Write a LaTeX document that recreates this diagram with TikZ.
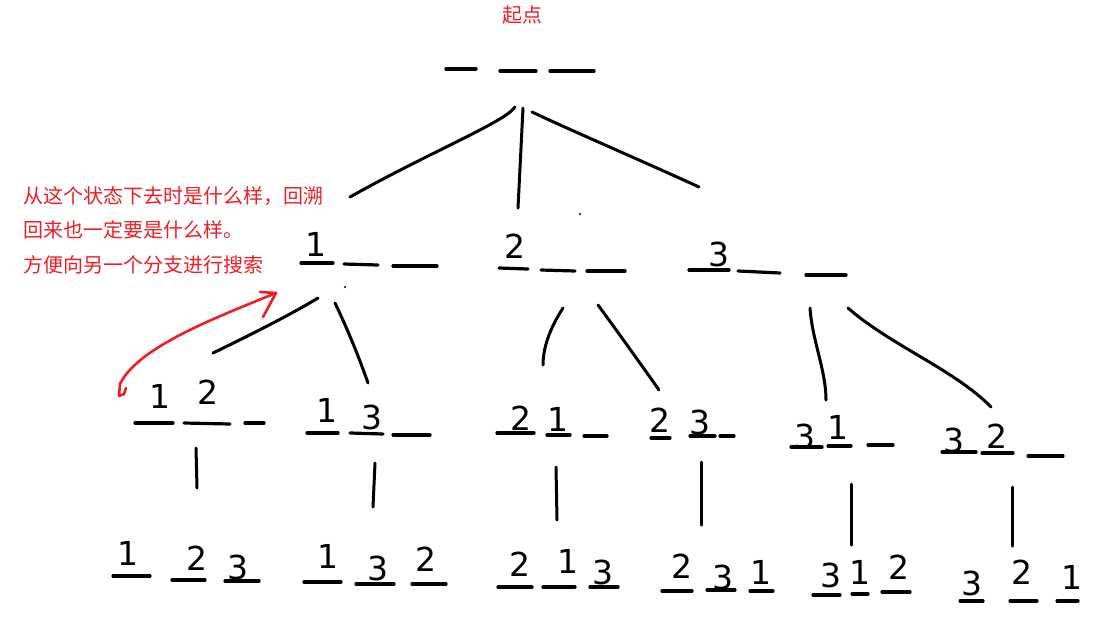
\documentclass[tikz,border=0pt]{standalone}
\usepackage{fontspec}
\newfontfamily\cjk{Noto Sans CJK SC}
\newfontfamily\digf{DejaVu Sans}
\definecolor{notered}{RGB}{240,30,36}
\tikzset{
  dig/.style={font=\digf\fontsize{33}{33}\selectfont, inner sep=0pt, anchor=base},
  ul/.style={line width=3.2pt, line cap=round},
  edge/.style={line width=3pt, line cap=round, line join=round},
  note/.style={text=notered, font=\cjk\fontsize{20}{20}\selectfont, inner sep=0pt, anchor=west},
  redline/.style={draw=notered, line width=2.6pt, line cap=round, line join=round},
  speck/.style={fill=black, circle, inner sep=0pt, minimum size=2.4pt}
}
\begin{document}
\begin{tikzpicture}[x=1pt,y=-1pt]
\useasboundingbox (0,0) rectangle (1105,627);

% ---- labels ----
\node[note, anchor=center] (start) at (522,15) {起点};
\node[note] (note1) at (23,196) {从这个状态下去时是什么样，回溯};
\node[note] (note2) at (23,230) {回来也一定要是什么样。};
\node[note] (note3) at (23,265) {方便向另一个分支进行搜索};

% ---- root ----
\draw[ul] (446,69) -- (476,69);
\draw[ul] (500,71) -- (536,71);
\draw[ul] (550,71) -- (594,71);
\coordinate (rA) at (515,107);
\coordinate (rB) at (523,108);
\coordinate (rC) at (532,112);

% ---- level 1 ----
\node[dig] (a1) at (316,256) {1};
\draw[ul] (301,263) -- (333,263);
\draw[ul] (344,264) -- (378,265);
\draw[ul] (393,266) -- (437,266);

\node[dig] (b1) at (515,258) {2};
\draw[ul] (499,268) -- (528,269);
\draw[ul] (541,270) -- (575,271);
\draw[ul] (587,271) -- (625,271);

\node[dig] (c1) at (719,266) {3};
\draw[ul] (689,270) -- (729,270);
\draw[ul] (738,271) -- (780,273);
\draw[ul] (806,275) -- (846,275);

\coordinate (aT) at (350,197);
\coordinate (bT) at (518,208);
\coordinate (cT) at (699,187);
\draw[edge] (rA) .. controls (505,122) and (430,152) .. (aT);
\draw[edge] (rB) -- (bT);
\draw[edge] (rC) .. controls (570,130) and (640,160) .. (cT);

\node[speck] (sp1) at (580,214) {};
\node[speck] (sp2) at (345,287) {};

% ---- level 2 ----
\node[dig] (d1) at (160,408) {1};
\node[dig] (d2) at (208,404) {2};
\draw[ul] (135,423) -- (173,423);
\draw[ul] (184,423) -- (230,424);
\draw[ul] (245,423) -- (264,423);

\node[dig] (e1) at (327,422) {1};
\node[dig] (e2) at (372,429) {3};
\draw[ul] (307,433) -- (338,433);
\draw[ul] (350,433) -- (383,434);
\draw[ul] (393,435) -- (430,435);

\node[dig] (f1) at (521,430) {2};
\node[dig] (f2) at (558,431) {1};
\draw[ul] (497,433) -- (534,433);
\draw[ul] (547,435) -- (570,435);
\draw[ul] (584,436) -- (607,436);

\node[dig] (g1) at (660,432) {2};
\node[dig] (g2) at (700,434) {3};
\draw[ul] (651,438) -- (670,438);
\draw[ul] (690,436) -- (715,436);
\draw[ul] (720,436) -- (734,436);

\node[dig] (h1) at (805,448) {3};
\node[dig] (h2) at (838,439) {1};
\draw[ul] (791,447) -- (822,447);
\draw[ul] (828,446) -- (851,446);
\draw[ul] (868,445) -- (893,445);

\node[dig] (i1) at (954,452) {3};
\node[dig] (i2) at (997,448) {2};
\draw[ul] (942,452) -- (976,452);
\draw[ul] (982,453) -- (1013,453);
\draw[ul] (1028,456) -- (1063,456);

% level 1 -> level 2 edges
\coordinate (a1L) at (318,298);  \coordinate (dT) at (213,353);
\coordinate (a1R) at (335,303);  \coordinate (eT) at (368,383);
\coordinate (b1L) at (563,308);  \coordinate (fT) at (543,365);
\coordinate (b1R) at (598,305);  \coordinate (gT) at (659,390);
\coordinate (c1L) at (810,308);  \coordinate (hT) at (826,400);
\coordinate (c1R) at (848,308);  \coordinate (iT) at (991,407);
\draw[edge] (a1L) .. controls (290,315) and (250,335) .. (dT);
\draw[edge] (a1R) .. controls (348,330) and (360,360) .. (eT);
\draw[edge] (b1L) .. controls (552,325) and (543,345) .. (fT);
\draw[edge] (b1R) .. controls (620,335) and (645,370) .. (gT);
\draw[edge] (c1L) .. controls (812,340) and (826,370) .. (hT);
\draw[edge] (c1R) .. controls (890,345) and (955,370) .. (iT);

% ---- level 3 ----
\node[dig] (j1) at (128,565) {1};
\node[dig] (j2) at (197,570) {2};
\node[dig] (j3) at (238,579) {3};
\draw[ul] (113,576) -- (150,576);
\draw[ul] (172,580) -- (205,580);
\draw[ul] (225,581) -- (259,581);

\node[dig] (k1) at (328,568) {1};
\node[dig] (k2) at (378,580) {3};
\node[dig] (k3) at (426,571) {2};
\draw[ul] (304,582) -- (341,582);
\draw[ul] (356,584) -- (394,584);
\draw[ul] (412,584) -- (446,584);

\node[dig] (l1) at (520,576) {2};
\node[dig] (l2) at (568,573) {1};
\node[dig] (l3) at (603,584) {3};
\draw[ul] (498,587) -- (532,587);
\draw[ul] (543,587) -- (575,587);
\draw[ul] (590,587) -- (618,587);

\node[dig] (m1) at (682,578) {2};
\node[dig] (m2) at (723,589) {3};
\node[dig] (m3) at (761,584) {1};
\draw[ul] (662,591) -- (692,591);
\draw[ul] (707,590) -- (735,590);
\draw[ul] (750,591) -- (773,591);

\node[dig] (o1) at (831,587) {3};
\node[dig] (o2) at (860,584) {1};
\node[dig] (o3) at (899,579) {2};
\draw[ul] (813,595) -- (840,595);
\draw[ul] (852,594) -- (868,594);
\draw[ul] (882,592) -- (910,592);

\node[dig] (p1) at (972,595) {3};
\node[dig] (p2) at (1022,584) {2};
\node[dig] (p3) at (1072,589) {1};
\draw[ul] (960,601) -- (983,601);
\draw[ul] (1010,601) -- (1037,601);
\draw[ul] (1057,601) -- (1078,601);

% level 2 -> level 3 edges
\coordinate (dB) at (196,448);  \coordinate (jT) at (197,488);
\coordinate (eB) at (375,463);  \coordinate (kT) at (373,507);
\coordinate (fB) at (556,467);  \coordinate (lT) at (557,520);
\coordinate (gB) at (701,462);  \coordinate (mT) at (701,525);
\coordinate (hB) at (851,484);  \coordinate (oT) at (851,545);
\coordinate (iB) at (1012,487); \coordinate (pT) at (1012,546);
\draw[edge] (dB) -- (jT);
\draw[edge] (eB) -- (kT);
\draw[edge] (fB) -- (lT);
\draw[edge] (gB) -- (mT);
\draw[edge] (hB) -- (oT);
\draw[edge] (iB) -- (pT);

% ---- red backtrack arrow ----
\coordinate (arS) at (120,384);
\coordinate (arT) at (276,293);
\draw[redline] (arS) .. controls (138,347) and (215,318) .. (arT);
\draw[redline] (arS) -- (119,396) -- (124,394) -- (126,388);
\draw[redline] (260,292) -- (arT) -- (263,317);
\end{tikzpicture}
\end{document}
